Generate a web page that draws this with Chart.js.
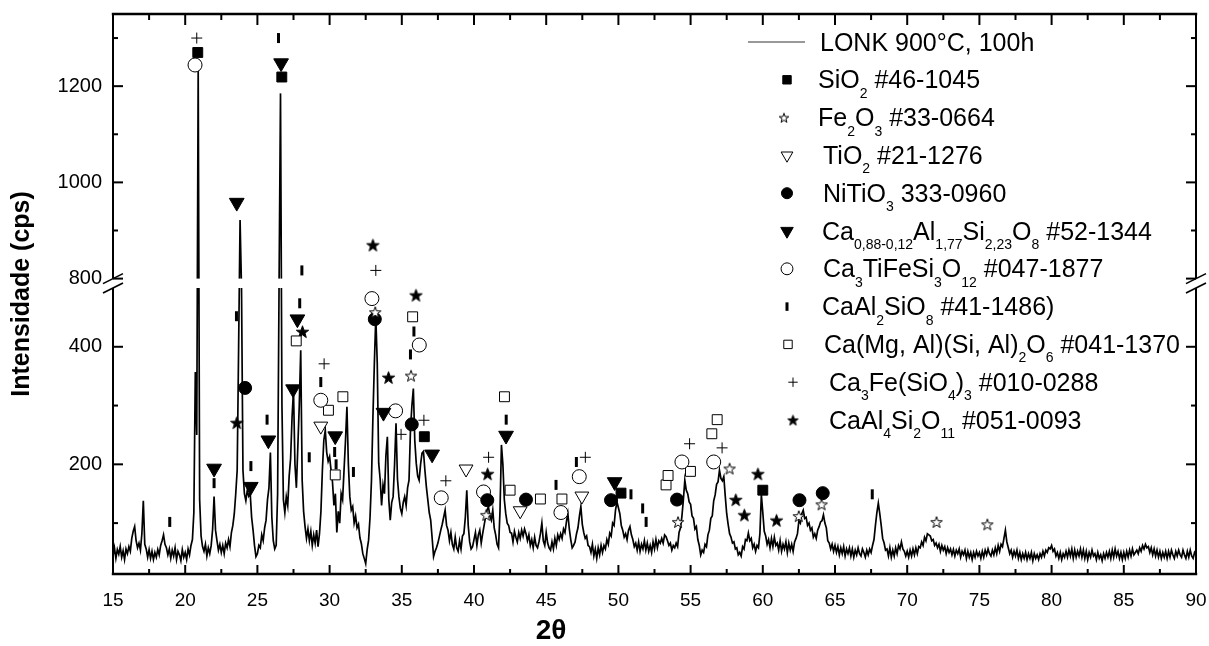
<!DOCTYPE html>
<html>
<head>
<meta charset="utf-8">
<title>LONK 900°C, 100h</title>
<script src="https://cdn.jsdelivr.net/npm/chart.js@4.4.0/dist/chart.umd.min.js"></script>
<style>
  html, body { margin: 0; padding: 0; background: #fff; }
</style>
</head>
<body>
<canvas id="xrd" width="1209" height="646"></canvas>
<script>
// Diffractogram LONK 900°C, 100h: counts per 0.1° step, one row per degree (15.0 ... 90.0)
const scanStart = 15;
const scanStep = 0.1;
const scanCounts = [
  44, 58, 40, 55, 47, 60, 42, 53, 38, 56,        // 15
  48, 60, 52, 74, 86, 94, 70, 58, 66, 54,        // 16
  82, 138, 64, 56, 42, 55, 40, 52, 38, 50,       // 17
  42, 55, 46, 62, 70, 80, 64, 58, 46, 56,        // 18
  40, 54, 44, 58, 38, 52, 46, 36, 55, 42,        // 19
  50, 38, 56, 46, 62, 72, 118, 357, 250, 1237,   // 20
  140, 78, 60, 52, 64, 44, 58, 48, 62, 90,       // 21
  145, 88, 70, 54, 64, 50, 62, 48, 66, 58,       // 22
  72, 60, 84, 96, 116, 150, 190, 400, 922, 500,  // 23
  190, 150, 138, 156, 146, 151, 110, 88, 62, 43, // 24
  48, 62, 58, 80, 70, 92, 105, 140, 160, 220,    // 25
  110, 70, 56, 62, 150, 560, 1185, 300, 140, 118,// 26
  145, 130, 180, 210, 280, 326, 200, 160, 230, 300, // 27
  394, 173, 120, 94, 74, 90, 70, 86, 62, 80,     // 28
  66, 88, 60, 82, 120, 190, 241, 258, 220, 205,  // 29
  213, 190, 170, 130, 150, 84, 120, 100, 150, 140, // 30
  190, 240, 298, 200, 145, 122, 128, 100, 112, 92, // 31
  98, 75, 65, 48, 40, 31, 55, 71, 110, 173,      // 32
  280, 372, 451, 372, 202, 175, 130, 165, 150, 215, // 33
  247, 140, 105, 135, 145, 200, 270, 175, 145, 125, // 34
  116, 135, 145, 130, 160, 173, 258, 300, 329, 240, // 35
  202, 180, 173, 200, 219, 222, 190, 162, 140, 118, // 36
  105, 75, 43, 52, 58, 66, 77, 88, 98, 110,      // 37
  122, 96, 88, 70, 84, 64, 56, 76, 58, 52,       // 38
  70, 56, 78, 82, 110, 156, 96, 68, 56, 60,      // 39
  72, 84, 62, 80, 88, 66, 82, 96, 110, 122,      // 40
  128, 112, 105, 122, 92, 80, 64, 58, 120, 233,  // 41
  200, 140, 116, 100, 96, 84, 83, 68, 86, 76,    // 42
  68, 84, 74, 88, 78, 90, 82, 70, 80, 62,        // 43
  72, 58, 76, 62, 58, 68, 82, 100, 70, 62,       // 44
  84, 66, 58, 54, 68, 56, 74, 62, 80, 72,        // 45
  82, 74, 90, 84, 102, 116, 90, 72, 58, 62,      // 46
  68, 82, 92, 112, 128, 98, 84, 74, 78, 62,      // 47
  60, 50, 64, 44, 56, 40, 58, 46, 62, 50,        // 48
  62, 56, 72, 64, 83, 78, 100, 96, 122, 136,     // 49
  126, 116, 96, 88, 76, 82, 72, 88, 94, 80,      // 50
  72, 60, 66, 54, 68, 52, 64, 56, 70, 54,        // 51
  66, 52, 62, 50, 68, 56, 72, 58, 70, 66,        // 52
  74, 66, 80, 77, 70, 62, 66, 54, 62, 58,        // 53
  66, 60, 84, 92, 112, 140, 173, 156, 150, 136,  // 54
  132, 112, 108, 90, 94, 72, 62, 46, 54, 50,     // 55
  64, 60, 80, 88, 108, 112, 138, 148, 166, 170,  // 56
  190, 176, 172, 179, 146, 116, 98, 82, 76, 66,  // 57
  68, 56, 58, 46, 50, 44, 60, 56, 72, 70,        // 58
  83, 70, 74, 58, 64, 52, 62, 58, 82, 148,       // 59
  118, 86, 78, 64, 72, 58, 74, 60, 76, 62,       // 60
  66, 54, 70, 52, 64, 56, 68, 50, 66, 54,        // 61
  64, 52, 68, 74, 82, 104, 100, 116, 122, 108,   // 62
  110, 96, 100, 88, 92, 76, 82, 74, 88, 94,      // 63
  102, 104, 114, 100, 92, 70, 66, 56, 64, 52,    // 64
  62, 50, 60, 46, 58, 48, 60, 44, 56, 48,        // 65
  58, 44, 56, 42, 54, 46, 58, 48, 44, 56,        // 66
  50, 42, 54, 46, 56, 50, 62, 72, 96, 118,       // 67
  134, 116, 96, 74, 66, 54, 56, 44, 58, 42,      // 68
  54, 44, 58, 48, 62, 56, 68, 56, 52, 44,        // 69
  52, 42, 54, 44, 56, 46, 58, 48, 60, 58,        // 70
  68, 62, 76, 70, 82, 80, 78, 70, 72, 62,        // 71
  66, 58, 64, 52, 62, 54, 60, 48, 58, 50,        // 72
  56, 46, 55, 44, 54, 48, 56, 42, 52, 46,        // 73
  54, 40, 52, 42, 50, 38, 50, 42, 52, 44,        // 74
  50, 40, 52, 42, 54, 46, 56, 48, 44, 54,        // 75
  46, 58, 48, 62, 52, 64, 60, 74, 88, 68,        // 76
  58, 48, 54, 42, 52, 44, 54, 40, 50, 38,        // 77
  48, 40, 50, 38, 48, 40, 50, 36, 48, 40,        // 78
  46, 38, 48, 42, 52, 44, 54, 50, 58, 56,        // 79
  62, 52, 56, 44, 50, 40, 50, 38, 48, 42,        // 80
  52, 42, 54, 44, 56, 40, 54, 42, 52, 44,        // 81
  56, 42, 54, 40, 52, 38, 50, 42, 54, 44,        // 82
  48, 38, 50, 40, 46, 36, 48, 40, 50, 42,        // 83
  52, 40, 54, 42, 56, 44, 52, 40, 50, 38,        // 84
  50, 40, 52, 42, 54, 44, 56, 46, 50, 54,        // 85
  48, 58, 52, 62, 56, 64, 58, 60, 50, 58,        // 86
  46, 56, 44, 54, 42, 52, 40, 50, 42, 52,        // 87
  40, 52, 42, 54, 46, 40, 52, 44, 54, 46,        // 88
  42, 54, 46, 40, 52, 42, 54, 44, 40, 50,        // 89
  46                                             // 90
];

// Reference peak positions of each phase: [2θ, height of the mark]
const sio2Peaks = [[20.87, 1270], [26.69, 1219], [36.56, 247], [50.18, 151], [60.0, 156]];
const fe2o3Peaks = [[33.16, 459], [35.64, 351], [40.85, 114], [54.13, 102], [57.7, 193], [62.49, 112],
  [64.07, 132], [72.03, 102], [75.55, 98]];
const tio2Peaks = [[29.39, 265], [39.45, 192], [43.2, 121], [47.47, 146]];
const nitio3Peaks = [[24.15, 330], [33.13, 447], [35.69, 268], [40.92, 139], [43.6, 140], [49.49, 139],
  [54.06, 140], [62.54, 139], [64.15, 151]];
const caAlSiPeaks = [[22.0, 193], [23.57, 958], [24.54, 162], [25.76, 241], [26.64, 1248], [27.47, 328],
  [27.77, 447], [30.39, 248], [33.73, 288], [37.1, 217], [42.22, 249], [49.74, 170]];
const caTiFePeaks = [[20.68, 1244], [29.39, 309], [32.93, 482], [34.57, 291], [36.21, 403], [37.73, 143],
  [40.66, 153], [46.02, 118], [47.29, 179], [54.4, 204], [56.6, 204]];
const caAl2SiO8Peaks = [[18.93, 102], [22.0, 168], [23.55, 452], [24.55, 197], [25.67, 276], [26.46, 1300],
  [27.93, 474], [28.08, 817], [28.59, 212], [29.39, 340], [30.35, 221], [30.45, 200], [31.65, 187],
  [35.6, 387], [35.84, 426], [42.23, 276], [45.68, 165], [47.09, 204], [50.87, 149], [51.68, 125],
  [51.92, 102], [67.58, 149]];
const caMgAlPeaks = [[27.69, 410], [29.92, 292], [30.39, 182], [30.92, 315], [35.75, 451], [42.11, 315],
  [42.5, 156], [44.6, 141], [46.09, 141], [53.3, 165], [53.44, 181], [54.99, 188], [56.47, 252], [56.84, 276]];
const ca3FePeaks = [[20.8, 1300], [29.62, 371], [33.2, 817], [34.95, 251], [36.53, 275], [38.05, 172],
  [41.01, 212], [47.71, 212], [54.93, 235], [57.18, 228]];
const caAl4Peaks = [[23.57, 271], [28.12, 426], [33.0, 870], [34.08, 348], [35.98, 488], [40.94, 184],
  [58.13, 140], [58.72, 114], [59.66, 184], [60.95, 105]];

const scanLabel = 'LONK 900°C, 100h';
const phaseLabels = [
  'SiO_{2} #46-1045',
  'Fe_{2}O_{3} #33-0664',
  'TiO_{2} #21-1276',
  'NiTiO_{3} 333-0960',
  'Ca_{0,88-0,12}Al_{1,77}Si_{2,23}O_{8} #52-1344',
  'Ca_{3}TiFeSi_{3}O_{12} #047-1877',
  'CaAl_{2}SiO_{8} #41-1486)',
  'Ca(Mg, Al)(Si, Al)_{2}O_{6} #041-1370',
  'Ca_{3}Fe(SiO_{4})_{3} #010-0288',
  'CaAl_{4}Si_{2}O_{11} #051-0093'
];
const phasePeaks = [sio2Peaks, fe2o3Peaks, tio2Peaks, nitio3Peaks, caAlSiPeaks,
  caTiFePeaks, caAl2SiO8Peaks, caMgAlPeaks, ca3FePeaks, caAl4Peaks];

// broken intensity axis
const yLowBand = [13.4, 500];
const yHighBand = [800, 1350];
const yMajorTicks = [200, 400, 800, 1000, 1200];
const yMinorTicks = [100, 300, 900, 1100, 1300];

// ---------------------------------------------------------------------------
const FONT = "'Liberation Sans', Arial, Helvetica, sans-serif";
Chart.defaults.font.family = FONT;
Chart.defaults.color = '#000';

// share of plot height: lower band, gap, upper band
const bandShare = [0.5107, 0.0168, 0.4725];

class BrokenLinearScale extends Chart.LinearScale {
  static id = 'brokenLinear';
  static defaults = Chart.LinearScale.defaults;

  bands() {
    const h = this.bottom - this.top;
    const lowTop = this.bottom - h * bandShare[0];
    const highBottom = lowTop - h * bandShare[1];
    return { lowTop, highBottom };
  }
  getPixelForValue(v) {
    const { lowTop, highBottom } = this.bands();
    if (v <= yLowBand[1]) {
      return this.bottom - (v - yLowBand[0]) / (yLowBand[1] - yLowBand[0]) * (this.bottom - lowTop);
    }
    if (v >= yHighBand[0]) {
      return highBottom - (v - yHighBand[0]) / (yHighBand[1] - yHighBand[0]) * (highBottom - this.top);
    }
    return lowTop - (v - yLowBand[1]) / (yHighBand[0] - yLowBand[1]) * (lowTop - highBottom);
  }
  getValueForPixel(p) {
    const { lowTop, highBottom } = this.bands();
    if (p >= lowTop) {
      return yLowBand[0] + (this.bottom - p) / (this.bottom - lowTop) * (yLowBand[1] - yLowBand[0]);
    }
    if (p <= highBottom) {
      return yHighBand[0] + (highBottom - p) / (highBottom - this.top) * (yHighBand[1] - yHighBand[0]);
    }
    return yLowBand[1] + (lowTop - p) / (lowTop - highBottom) * (yHighBand[0] - yLowBand[1]);
  }
  buildTicks() {
    this.start = this.min;
    this.end = this.max;
    return yMajorTicks.map(v => ({ value: v }));
  }
}
Chart.register(BrokenLinearScale);

function starMark(size, filled) {
  const c = document.createElement('canvas');
  c.width = c.height = size;
  const g = c.getContext('2d');
  const R = size / 2 - 1, r = R * 0.4;
  const cx = size / 2, cy = size / 2 + size * 0.05;
  g.beginPath();
  for (let i = 0; i < 10; i++) {
    const a = -Math.PI / 2 + i * Math.PI / 5;
    const d = i % 2 ? r : R;
    g.lineTo(cx + d * Math.cos(a), cy + d * Math.sin(a));
  }
  g.closePath();
  g.fillStyle = filled ? '#000' : '#fff';
  g.fill();
  g.lineWidth = 1;
  g.strokeStyle = '#000';
  g.stroke();
  return c;
}

// marker look of each phase, same order as phaseLabels
const phaseLooks = [
  { style: 'rect', radius: 7, bg: '#000', border: 1 },
  { style: starMark(14, false), legendStyle: starMark(12, false), radius: 7 },
  { style: 'triangle', radius: 8, rotation: 180, bg: '#fff', border: 1 },
  { style: 'circle', radius: 6.5, bg: '#000', border: 1 },
  { style: 'triangle', radius: 8.5, rotation: 180, bg: '#000', border: 1 },
  { style: 'circle', radius: 7, bg: '#fff', border: 1 },
  { style: 'line', radius: 5, rotation: 90, bg: '#000', border: 3 },
  { style: 'rect', radius: 7, bg: '#fff', border: 1 },
  { style: 'cross', radius: 5.5, bg: '#000', border: 1 },
  { style: starMark(15, true), legendStyle: starMark(13, true), radius: 7 }
];

const legendTop = 42, legendGap = 37.8;
const legendMarkerX = [787, 784, 787, 787, 787, 787, 787, 788, 793, 793];
const legendTextX = [818, 818, 823, 823, 822, 823, 822, 824, 829, 829];

function drawRich(ctx, text, x, baseline, size) {
  const parts = text.split(/(_\{[^}]*\})/);
  parts.forEach(p => {
    if (!p) return;
    if (p.startsWith('_{')) {
      const s = p.slice(2, -1);
      ctx.font = Math.round(size * 0.56) + 'px ' + FONT;
      ctx.fillText(s, x, baseline + size * 0.38);
      x += ctx.measureText(s).width;
    } else {
      ctx.font = size + 'px ' + FONT;
      ctx.fillText(p, x, baseline);
      x += ctx.measureText(p).width;
    }
  });
}

const frame = {
  id: 'frame',
  afterDatasetDraw(chart, args) {
    if (args.index !== 0) return;
    // blank the broken part of the intensity range
    const { ctx, chartArea: a } = chart;
    const b = chart.scales.y.bands();
    ctx.save();
    ctx.fillStyle = '#fff';
    ctx.fillRect(a.left - 2, b.highBottom, a.right - a.left + 4, b.lowTop - b.highBottom);
    ctx.restore();
  },
  afterDraw(chart) {
    const { ctx, chartArea: a } = chart;
    const xs = chart.scales.x, ys = chart.scales.y;
    const b = ys.bands();
    ctx.save();
    ctx.strokeStyle = '#000';
    ctx.lineCap = 'butt';
    const seg = (x1, y1, x2, y2) => { ctx.beginPath(); ctx.moveTo(x1, y1); ctx.lineTo(x2, y2); ctx.stroke(); };

    // frame
    ctx.lineWidth = 2.4;
    seg(a.left - 1.2, a.top, a.right + 1.2, a.top);
    seg(a.left - 1.2, a.bottom, a.right + 1.2, a.bottom);
    ctx.lineWidth = 2;
    [a.left, a.right].forEach(x => {
      seg(x, a.top, x, b.highBottom);
      seg(x, b.lowTop, x, a.bottom);
    });

    // inward ticks
    ctx.lineWidth = 2;
    const xMajor = xs.ticks.map(t => t.value);
    xMajor.forEach((v, i) => {
      const px = xs.getPixelForValue(v);
      seg(px, a.bottom, px, a.bottom - 9);
      seg(px, a.top, px, a.top + 11);
      if (i < xMajor.length - 1) {
        const pm = xs.getPixelForValue((v + xMajor[i + 1]) / 2);
        seg(pm, a.bottom, pm, a.bottom - 5);
        seg(pm, a.top, pm, a.top + 6);
      }
    });
    yMajorTicks.forEach(v => {
      const py = ys.getPixelForValue(v);
      seg(a.left, py, a.left + 10, py);
      seg(a.right, py, a.right - 10, py);
    });
    yMinorTicks.forEach(v => {
      const py = ys.getPixelForValue(v);
      seg(a.left, py, a.left + 5, py);
      seg(a.right, py, a.right - 5, py);
    });

    // axis break marks
    ctx.lineWidth = 1.6;
    [a.left, a.right].forEach(x => {
      [b.highBottom, b.lowTop].forEach(y => seg(x - 10, y + 5, x + 10, y - 5));
    });

    // legend
    ctx.lineWidth = 1;
    ctx.strokeStyle = '#333';
    seg(748, legendTop, 805, legendTop);
    ctx.fillStyle = '#000';
    ctx.textAlign = 'left';
    ctx.textBaseline = 'alphabetic';
    drawRich(ctx, scanLabel, 820, legendTop + 8.5, 25);
    phaseLabels.forEach((label, i) => {
      const y = legendTop + (i + 1) * legendGap;
      const look = phaseLooks[i];
      ctx.fillStyle = look.bg || '#000';
      ctx.strokeStyle = '#000';
      ctx.lineWidth = look.border || 1;
      Chart.helpers.drawPoint(ctx, {
        pointStyle: look.legendStyle || look.style,
        radius: look.radius * 0.85,
        rotation: look.rotation || 0,
        borderWidth: look.border || 1
      }, legendMarkerX[i], y);
      ctx.fillStyle = '#000';
      drawRich(ctx, label, legendTextX[i], y + 8.5, 25);
    });

    // 2θ axis title
    ctx.font = 'bold 28px ' + FONT;
    ctx.textAlign = 'center';
    ctx.textBaseline = 'middle';
    ctx.fillText('2θ', 551, 631);
    ctx.restore();
  }
};

const datasets = [{
  label: scanLabel,
  data: scanCounts.map((c, i) => ({ x: +(scanStart + i * scanStep).toFixed(1), y: c })),
  showLine: true,
  borderColor: '#000',
  borderWidth: 1.7,
  borderJoinStyle: 'miter',
  pointRadius: 0,
  tension: 0,
  order: 1
}];
phaseLabels.forEach((label, i) => {
  const look = phaseLooks[i];
  datasets.push({
    label: label,
    data: phasePeaks[i].map(p => ({ x: p[0], y: p[1] })),
    showLine: false,
    pointStyle: look.style,
    pointRadius: look.radius,
    pointRotation: look.rotation || 0,
    pointBackgroundColor: look.bg || '#000',
    pointBorderColor: '#000',
    pointBorderWidth: look.border || 1,
    order: 0
  });
});

new Chart(document.getElementById('xrd'), {
  type: 'scatter',
  data: { datasets: datasets },
  options: {
    responsive: false,
    animation: false,
    events: [],
    layout: { padding: { top: 14, right: 13, left: 0, bottom: 0 } },
    plugins: { legend: { display: false }, tooltip: { enabled: false } },
    scales: {
      x: {
        type: 'linear',
        min: 15,
        max: 90,
        grid: { display: false, drawTicks: false, tickLength: 0 },
        border: { display: false },
        ticks: { stepSize: 5, padding: 15, font: { size: 19 }, color: '#000', callback: v => v },
        afterFit(s) { s.height = 72; s.paddingLeft = 0; s.paddingRight = 0; }
      },
      y: {
        type: 'brokenLinear',
        min: yLowBand[0],
        max: yHighBand[1],
        grid: { display: false, drawTicks: false, tickLength: 0 },
        border: { display: false },
        ticks: { padding: 11, font: { size: 20 }, color: '#000', callback: v => v },
        title: {
          display: true,
          text: 'Intensidade (cps)',
          font: { size: 25, weight: 'bold' },
          color: '#000',
          padding: { top: 7, bottom: 0 }
        },
        afterFit(s) { s.width = 113; s.paddingTop = 0; s.paddingBottom = 0; }
      }
    }
  },
  plugins: [frame]
});
</script>
</body>
</html>
